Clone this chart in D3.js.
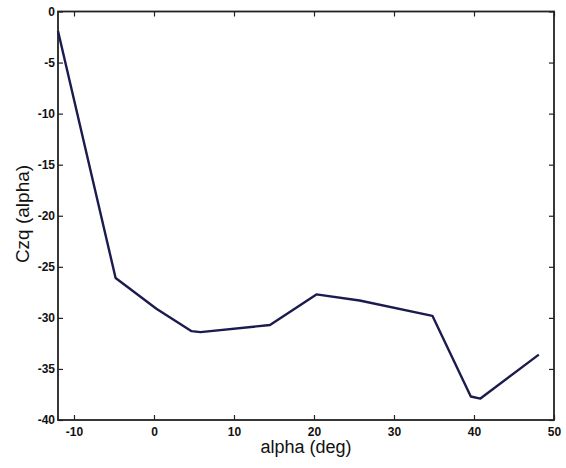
<!DOCTYPE html>
<html>
<head>
<meta charset="utf-8">
<script src="https://cdn.jsdelivr.net/npm/d3@7"></script>
<style>
  body { margin: 0; background: #fff; }
  svg { display: block; font-family: Arial, "Liberation Sans", Helvetica, sans-serif; }
  .tick text { font-weight: bold; font-size: 12px; fill: #111; }
</style>
</head>
<body>
<svg id="chart" width="566" height="468"></svg>
<script>
// Czq coefficient against angle of attack
var alphaDeg = [-12, -4.8, 0.3, 4.7, 5.8, 14.5, 20.3, 25.7, 34.8, 39.6, 40.8, 48.1];
var czq      = [-1.9, -26.1, -29.1, -31.3, -31.4, -30.7, -27.7, -28.3, -29.8, -37.7, -37.9, -33.6];
var xTicks = [-10, 0, 10, 20, 30, 40, 50];
var yTicks = [0, -5, -10, -15, -20, -25, -30, -35, -40];

var plotLeft = 58, plotRight = 554, plotTop = 11.5, plotBottom = 420;
var svg = d3.select("#chart");

var x = d3.scaleLinear().domain([-12, 50]).range([plotLeft, plotRight]);
var y = d3.scaleLinear().domain([-40, 0]).range([plotBottom, plotTop]);

var data = alphaDeg.map(function(a, i) { return {a: a, c: czq[i]}; });

// axes with inward ticks, matlab style box
function styleAxis(g) {
  g.select(".domain").remove();
  g.selectAll(".tick line").attr("stroke", "#222").attr("stroke-width", 1.2);
}

svg.append("g")
  .attr("transform", "translate(0," + plotBottom + ")")
  .call(d3.axisBottom(x).tickValues(xTicks).tickSizeInner(-5).tickSizeOuter(0).tickPadding(7))
  .call(styleAxis)
  .selectAll("text").text(function(d) { return d; });

svg.append("g")
  .attr("transform", "translate(0," + plotTop + ")")
  .call(d3.axisTop(x).tickValues(xTicks).tickSizeInner(-5).tickSizeOuter(0).tickFormat(""))
  .call(styleAxis);

svg.append("g")
  .attr("transform", "translate(" + plotLeft + ",0)")
  .call(d3.axisLeft(y).tickValues(yTicks).tickSizeInner(-5).tickSizeOuter(0).tickPadding(3))
  .call(styleAxis)
  .selectAll("text").text(function(d) { return d; });

svg.append("g")
  .attr("transform", "translate(" + plotRight + ",0)")
  .call(d3.axisRight(y).tickValues(yTicks).tickSizeInner(-5).tickSizeOuter(0).tickFormat(""))
  .call(styleAxis);

// frame
svg.append("rect")
  .attr("x", plotLeft).attr("y", plotTop)
  .attr("width", plotRight - plotLeft).attr("height", plotBottom - plotTop)
  .attr("fill", "none").attr("stroke", "#222").attr("stroke-width", 1.8);

var line = d3.line()
  .x(function(d) { return x(d.a); })
  .y(function(d) { return y(d.c); });

svg.append("path")
  .datum(data)
  .attr("d", line)
  .attr("fill", "none")
  .attr("stroke", "#1b1b4d")
  .attr("stroke-width", 2.4)
  .attr("stroke-linejoin", "round");

// axis titles
svg.append("text")
  .attr("x", (plotLeft + plotRight) / 2)
  .attr("y", 453)
  .attr("text-anchor", "middle")
  .style("font-size", "18px")
  .attr("fill", "#111")
  .text("alpha (deg)");

svg.append("text")
  .attr("transform", "translate(29," + 214 + ") rotate(-90)")
  .attr("text-anchor", "middle")
  .style("font-size", "19px")
  .attr("fill", "#111")
  .text("Czq (alpha)");
</script>
</body>
</html>
